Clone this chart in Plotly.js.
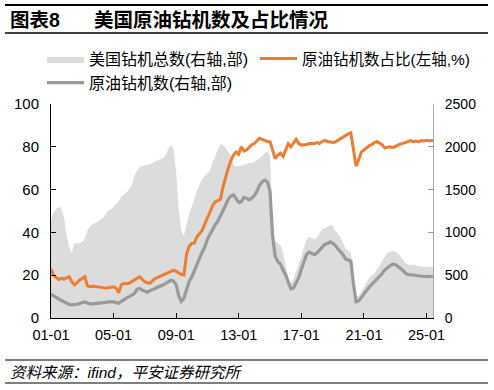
<!DOCTYPE html>
<html>
<head>
<meta charset="utf-8">
<script src="https://cdn.plot.ly/plotly-3.0.1.min.js"></script>
<style>html,body{margin:0;padding:0;background:#fff;}#chart{width:494px;height:390px;}</style>
</head>
<body>
<div id="chart"></div>
<script>
// Dates: every two months (odd months) from 2001-01 to 2025-05, plus 2025-06
const dates = [];
for (let y = 2001; y <= 2025; y++) {
  for (const m of [1, 3, 5, 7, 9, 11]) {
    if (y === 2025 && m > 5) break;
    dates.push(y + '-' + (m < 10 ? '0' + m : m) + '-01');
  }
}
dates.push('2025-06-01');

// US total rig count (right axis, units)
const totalRigs = [
  1145, 1230, 1270, 1300, 1275, 1170,
  970, 830, 760, 870, 870, 875,
  890, 930, 1020, 1075, 1095, 1110,
  1125, 1150, 1170, 1220, 1255, 1270,
  1300, 1320, 1360, 1420, 1440, 1470,
  1500, 1560, 1660, 1720, 1760, 1775,
  1780, 1790, 1800, 1810, 1830, 1845,
  1855, 1865, 1900, 1975, 2020, 1980,
  1700, 1280, 1020, 960, 1100, 1220,
  1300, 1400, 1490, 1560, 1620, 1660,
  1690, 1720, 1820, 1880, 1970, 2030,
  2020, 1990, 1940, 1900, 1790, 1770,
  1780, 1780, 1790, 1800, 1810, 1810,
  1820, 1850, 1870, 1890, 1930, 1940,
  1900, 1120, 900, 880, 850, 760,
  620, 480, 410, 450, 540, 620,
  720, 820, 920, 950, 930, 920,
  940, 990, 1040, 1050, 1060, 1085,
  1080, 1020, 980, 950, 880, 810,
  790, 770, 480, 250, 260, 310,
  370, 420, 460, 500, 520, 570,
  610, 670, 720, 760, 770, 785,
  775, 755, 720, 680, 640, 625,
  620, 625, 610, 605, 600, 600,
  600, 600, 595, 595
];

// US crude oil rig count (right axis, units)
const oilRigs = [
  280, 255, 240, 222, 205, 185,
  165, 158, 153, 152, 160, 170,
  180, 188, 175, 165, 166, 168,
  170, 172, 178, 183, 188, 190,
  188, 180, 172, 195, 220, 235,
  250, 270, 285, 335, 345, 325,
  308, 300, 320, 330, 345, 362,
  370, 385, 405, 420, 440, 430,
  390, 260, 195, 230, 330, 430,
  480, 560, 640, 700, 770, 830,
  920, 980, 1040, 1090, 1130, 1190,
  1262, 1320, 1390, 1425, 1437, 1400,
  1350, 1360, 1410, 1400, 1380, 1400,
  1430, 1480, 1550, 1590, 1612, 1590,
  1480, 960, 720, 660, 630, 560,
  500, 420, 340, 350, 410, 470,
  570, 660, 740, 770, 750, 740,
  760, 790, 830, 860, 870, 890,
  875, 850, 810, 780, 740, 690,
  680, 665, 400, 190, 200, 240,
  290, 330, 360, 390, 420, 460,
  490, 520, 560, 590, 610, 630,
  625, 605, 585, 555, 520, 505,
  505, 500, 500, 490, 485, 485,
  485, 490, 485, 485
];

// Share of crude oil rigs (left axis, %)
const oilShare = [
  23, 20, 19, 18, 18.5, 18.2,
  18.8, 19.3, 17, 15.5, 16.5, 17.8,
  18.5, 19.3, 15, 14.6, 14.8, 14.7,
  14.6, 14.3, 14.2, 13.9, 14.2, 14.5,
  14.6, 14, 11.8, 15.5, 16.2, 16,
  16.2, 17, 17.8, 18.5, 19.3, 18,
  17, 16.5, 16.3, 17.5, 18.5, 19,
  19.6, 20.1, 20.5, 21.3, 21.8, 22.4,
  21.8, 20.9, 20.3, 20.1, 30, 33.5,
  34.9, 35, 38, 39.5, 41, 44,
  46.5, 49.5, 52.5, 54.3, 54.8, 55.5,
  61.5, 66, 70, 73.5, 76.2, 77.5,
  76.5, 80, 78, 78.5, 80, 81,
  81.5, 83, 84, 83.5, 83, 82.5,
  82.4, 78, 74.5, 76, 77, 75.5,
  79, 81.5, 80, 82, 83.5, 81.5,
  80.8, 81, 81, 81.5, 81.5, 81.5,
  82, 81.5, 82.5, 83, 82.5, 82.2,
  82, 82.2, 83, 84, 84.5, 85.5,
  86, 86.5, 79, 71, 74, 77.5,
  78.5, 79.5, 80.5, 81, 82, 82.4,
  81.8, 81, 79.5, 79.8, 80, 79.6,
  80.3, 80.8, 81.3, 81.6, 82, 82.5,
  82.9, 82.4, 82.7, 82.4, 82.9, 82.7,
  83, 82.8, 82.9, 82.9
];

const xTicks = ['2001-01-01','2005-01-01','2009-01-01','2013-01-01','2017-01-01','2021-01-01','2025-01-01'];
const leftTicks = [0, 20, 40, 60, 80, 100];
const rightTicks = [0, 500, 1000, 1500, 2000, 2500];

const FONT = '"Liberation Sans", Arial, "Noto Sans CJK SC", sans-serif';

// plot area in pixels: left 51, right 433, top 104, bottom 318
const L = 51, R = 433, T = 104, B = 318, W = R - L, H = B - T;
const px = v => (v - L) / W;
const py = v => (B - v) / H;

const traces = [
  {
    x: dates, y: totalRigs, yaxis: 'y', type: 'scatter', mode: 'lines',
    name: '美国钻机总数(右轴,部)', fill: 'tozeroy', fillcolor: '#dcdcdc',
    line: {width: 0, color: '#dcdcdc'}, legend: 'legend', legendrank: 1, hoverinfo: 'skip'
  },
  {
    x: dates, y: oilRigs, yaxis: 'y', type: 'scatter', mode: 'lines',
    name: '原油钻机数(右轴,部)', line: {width: 3.2, color: '#999999'}, legend: 'legend', legendrank: 2
  },
  {
    x: dates, y: oilShare, yaxis: 'y2', type: 'scatter', mode: 'lines',
    name: '原油钻机数占比(左轴,%)', line: {width: 3, color: '#ed7d31'}, legend: 'legend2'
  }
];

const layout = {
  width: 494, height: 390,
  margin: {l: L, r: 494 - R, t: T, b: 390 - B, pad: 0},
  paper_bgcolor: '#fff', plot_bgcolor: 'rgba(0,0,0,0)',
  font: {family: FONT, size: 14, color: '#000'},
  showlegend: true,
  legend: {
    orientation: 'v', x: px(42), xanchor: 'left', y: py(42), yanchor: 'top',
    font: {size: 16, family: FONT}, itemwidth: 37, bgcolor: 'rgba(0,0,0,0)', tracegroupgap: 0
  },
  legend2: {
    orientation: 'v', x: px(255), xanchor: 'left', y: py(42), yanchor: 'top',
    font: {size: 15.5, family: FONT}, itemwidth: 37, bgcolor: 'rgba(0,0,0,0)', tracegroupgap: 0
  },
  xaxis: {
    type: 'date', range: ['2001-01-01', '2025-06-01'],
    tickmode: 'array', tickvals: xTicks, tickformat: '%y-%m',
    ticks: 'inside', ticklen: 5, tickwidth: 1, tickcolor: '#000',
    showline: true, linecolor: '#000', linewidth: 1, showgrid: false, zeroline: false,
    tickfont: {size: 14.5, family: FONT}, ticklabelstandoff: 4
  },
  yaxis: {
    side: 'right', range: [0, 2500], tickmode: 'array', tickvals: rightTicks,
    ticks: 'inside', ticklen: 5, tickcolor: '#999', showline: true, linecolor: '#aaa',
    linewidth: 1, showgrid: false, zeroline: false,
    tickfont: {size: 14, family: FONT}, ticklabelstandoff: 8
  },
  yaxis2: {
    side: 'left', overlaying: 'y', range: [0, 100], tickmode: 'array', tickvals: leftTicks,
    ticks: 'inside', ticklen: 5, tickcolor: '#000', showline: true, linecolor: '#000',
    linewidth: 1, showgrid: false, zeroline: false,
    tickfont: {size: 15, family: FONT}, ticklabelstandoff: 8
  },
  shapes: [
    {type: 'line', xref: 'paper', yref: 'paper', x0: px(5), x1: px(488), y0: py(5), y1: py(5), line: {color: '#000', width: 2}},
    {type: 'line', xref: 'paper', yref: 'paper', x0: px(5), x1: px(488), y0: py(33), y1: py(33), line: {color: '#000', width: 1.5}},
    {type: 'line', xref: 'paper', yref: 'paper', x0: px(5), x1: px(488), y0: py(360), y1: py(360), line: {color: '#000', width: 1.2}},
    {type: 'line', xref: 'paper', yref: 'paper', x0: px(5), x1: px(488), y0: py(383), y1: py(383), line: {color: '#000', width: 1.2}}
  ],
  annotations: [
    {xref: 'paper', yref: 'paper', x: px(8), y: py(20), xanchor: 'left', yanchor: 'middle',
     text: '<b>图表8</b>', showarrow: false, font: {size: 19.5, family: FONT}},
    {xref: 'paper', yref: 'paper', x: px(92), y: py(20), xanchor: 'left', yanchor: 'middle',
     text: '<b>美国原油钻机数及占比情况</b>', showarrow: false, font: {size: 19.5, family: FONT}},
    {xref: 'paper', yref: 'paper', x: px(8), y: py(372), xanchor: 'left', yanchor: 'middle',
     text: '<i>资料来源：ifind，平安证券研究所</i>', showarrow: false, font: {size: 15.5, family: FONT}}
  ]
};

Plotly.newPlot('chart', traces, layout, {staticPlot: true, displayModeBar: false});
</script>
</body>
</html>
